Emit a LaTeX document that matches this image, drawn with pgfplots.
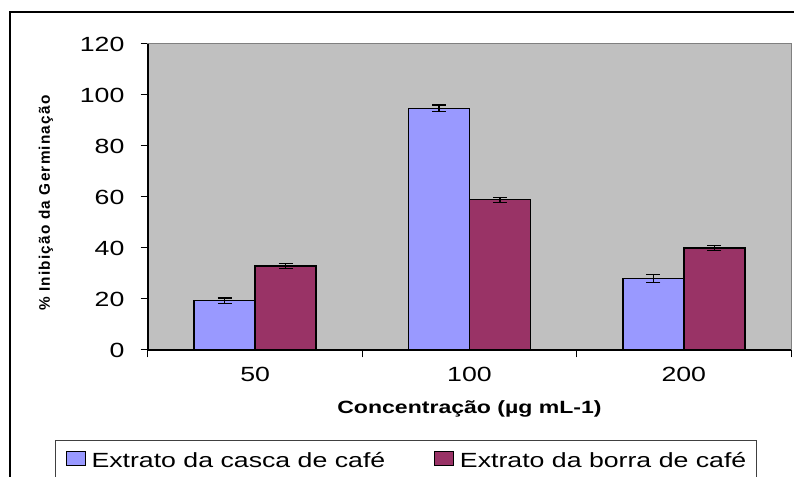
\documentclass[border=0pt]{standalone}
\usepackage{pgfplots}
\pgfplotsset{compat=1.18}
\usepackage{fontspec}
\setmainfont[FakeStretch=1.3]{Liberation Sans}
\newfontfamily\ylabfont[LetterSpace=8]{Liberation Sans}
\definecolor{bggray}{HTML}{C0C0C0}
\definecolor{cblue}{HTML}{9999FF}
\definecolor{cmaroon}{HTML}{993366}
\begin{document}
\begin{tikzpicture}
\useasboundingbox (0,0) rectangle (595.5pt,357.75pt);
\draw[line width=1.1pt] (7.5pt,-5pt) -- (7.5pt,348.75pt) -- (605pt,348.75pt);
\begin{axis}[
  at={(111pt,95.25pt)}, anchor=south west,
  scale only axis, width=482.25pt, height=229.5pt,
  ybar=0pt, bar width=45.75pt,
  xmin=-0.5, xmax=2.5, ymin=0, ymax=120,
  ytick={0,20,...,120},
  xtick={-0.5,0.5,1.5,2.5}, xticklabels={,,,},
  extra x ticks={0,1,2}, extra x tick labels={50,100,200},
  extra x tick style={tick style={draw=none}},
  axis background/.style={fill=bggray},
  axis line style={draw=gray, line width=0.75pt},
  tick align=outside, xtick pos=lower, ytick pos=left,
  major tick length=5.5pt,
  tick style={black, line width=0.75pt},
  /pgf/number format/assume math mode=true,
  ticklabel style={font=\fontsize{15.4}{18}\selectfont},
  yticklabel style={anchor=east, inner sep=0pt, xshift=-12pt},
  xticklabel style={anchor=base, inner sep=0pt, yshift=-18.5pt},
  every axis x label/.style={at={(axis description cs:0.5,0)}, anchor=base, yshift=-47.5pt},
  every axis y label/.style={at={(axis description cs:-0.1586,0.48)}, anchor=center, rotate=90},
  xlabel={\bfseries\fontsize{13.3}{15}\selectfont Concentração (µg mL-1)},
  ylabel={\ylabfont\bfseries\fontsize{11.5}{13}\selectfont \% Inibição da Germinação},
  legend columns=2,
  legend cell align=left,
  legend style={at={(-0.1446,-0.2941)}, anchor=north west, draw=black!75, line width=0.75pt,
    fill=white, inner xsep=7.5pt, inner ysep=8pt, font=\fontsize{15.4}{18}\selectfont,
    nodes={inner sep=0pt},
    /tikz/every odd column/.append style={column sep=4.5pt},
    /tikz/every even column/.append style={column sep=36.5pt}},
  after end axis/.code={\draw[black, line width=0.9pt] (rel axis cs:0,1) -- (rel axis cs:0,0) -- (rel axis cs:1,0);},
]
\addplot[fill=cblue, draw=black, line width=1pt,
  legend image code/.code={\draw[fill=cblue, draw=black, line width=0.75pt] (0pt,-3.5pt) rectangle (14.25pt,7pt);},
  error bars/.cd, y dir=both, y explicit,
  error bar style={black, line width=0.9pt},
  error mark options={black, line width=0.9pt, mark size=5.25pt, rotate=90}]
  coordinates {(0,19.3) +- (0,1.1) (1,94.8) +- (0,1.3) (2,28.1) +- (0,1.5)};
\addlegendentry{Extrato da casca de café}
\addplot[fill=cmaroon, draw=black, line width=1pt,
  legend image code/.code={\draw[fill=cmaroon, draw=black, line width=0.75pt] (0pt,-3.5pt) rectangle (14.25pt,7pt);},
  error bars/.cd, y dir=both, y explicit,
  error bar style={black, line width=0.9pt},
  error mark options={black, line width=0.9pt, mark size=5.25pt, rotate=90}]
  coordinates {(0,33.0) +- (0,0.9) (1,58.9) +- (0,1.0) (2,40.0) +- (0,0.85)};
\addlegendentry{Extrato da borra de café}
\end{axis}
\end{tikzpicture}
\end{document}
